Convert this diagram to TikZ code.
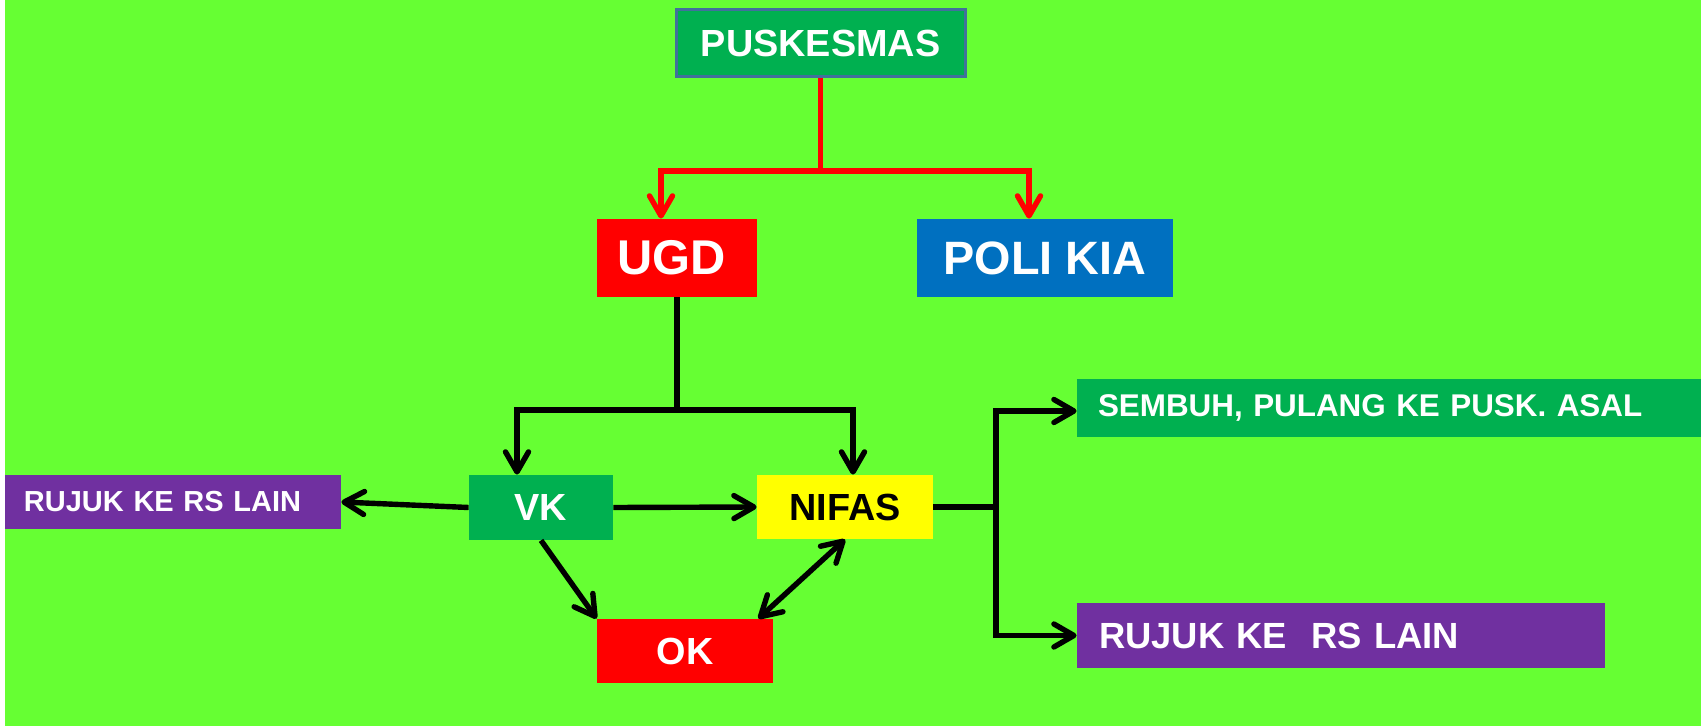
\documentclass[tikz,border=0pt]{standalone}
\usepackage{fontspec}
\setmainfont{Liberation Sans}
\usetikzlibrary{arrows.meta}

\definecolor{bggreen}{HTML}{66FF33}
\definecolor{boxgreen}{HTML}{00B050}
\definecolor{boxred}{HTML}{FF0000}
\definecolor{boxblue}{HTML}{0070C0}
\definecolor{boxyellow}{HTML}{FFFF00}
\definecolor{boxpurple}{HTML}{7030A0}
\definecolor{rimblue}{HTML}{41719C}

\newcommand{\boxfont}[1]{\fontsize{#1}{#1}\selectfont\bfseries}

\tikzset{
  box/.style={inner sep=0pt, text=white},
  lbox/.style 2 args={box, inner xsep=#1, text width=#2, align=left},
  link/.style={line width=2.7pt},
  arr/.style={link, -{Straight Barb[length=10pt,width=11.5pt,round]}},
  dblarr/.style={link, {Straight Barb[length=10pt,width=11.5pt,round]}-{Straight Barb[length=10pt,width=11.5pt,round]}}
}

\begin{document}
\begin{tikzpicture}[x=0.5pt,y=-0.5pt]
    % Background
    \useasboundingbox (0,0) rectangle (1701,726);
    \fill[white] (0,0) rectangle (1701,726);
    \fill[bggreen] (5,0) rectangle (1701,726);

    % Top
    \node[box, fill=boxgreen, draw=rimblue, line width=1.5pt, minimum width=144.5pt, minimum height=33.5pt,
          font=\boxfont{18.9pt}] (pusk) at (820.5,43.5) {PUSKESMAS};
    \node[lbox={10pt}{60pt}, fill=boxred, minimum height=39pt,
          font=\boxfont{24.4pt}] (ugd) at (677,258) {UGD};
    \node[box, fill=boxblue, minimum width=128pt, minimum height=39pt,
          font=\boxfont{23.4pt}] (poli) at (1045,258) {POLI KIA};

    % Middle
    \node[box, fill=boxgreen, minimum width=72pt, minimum height=32.5pt,
          font=\boxfont{18.9pt}] (vk) at (541,507.5) {VK};
    \node[box, fill=boxyellow, text=black, minimum width=88pt, minimum height=32pt,
          font=\boxfont{18.9pt}] (nifas) at (845,507) {NIFAS};
    \node[box, fill=boxred, minimum width=88pt, minimum height=32pt,
          font=\boxfont{18.9pt}] (ok) at (685,651) {OK};
    \node[lbox={9.5pt}{149pt}, fill=boxpurple, minimum height=27pt,
          font=\boxfont{14.5pt}] (rujukL) at (173,502) {RUJUK KE RS LAIN};

    % Right
    \node[lbox={10.5pt}{291pt}, fill=boxgreen, minimum height=29pt,
          font=\boxfont{15.7pt}] (sembuh) at (1389,408) {SEMBUH, PULANG KE PUSK. ASAL};
    \node[lbox={11pt}{242pt}, fill=boxpurple, minimum height=32.5pt,
          font=\boxfont{18.2pt}] (rujukR) at (1341,635.5) {RUJUK KE\ \ RS LAIN};

    % Red links
    \coordinate (rsplit) at (820.5,171);
    \draw[link, boxred] (pusk.south) -- (rsplit);
    \draw[arr, boxred] (rsplit) -| ([xshift=-8pt]ugd.north);
    \draw[arr, boxred] (rsplit) -| ([xshift=-8pt]poli.north);

    % Black links
    \coordinate (bsplit) at (677,410);
    \draw[link] (ugd.south) -- (bsplit);
    \draw[arr] (bsplit) -| ([xshift=-12pt]vk.north);
    \draw[arr] (bsplit) -| ([xshift=4pt]nifas.north);
    \draw[arr] (vk.west) -- (rujukL.east);
    \draw[arr] (vk.east) -- (nifas.west);
    \draw[arr] (vk.south) -- (ok.north west);
    \draw[dblarr] (nifas.south) -- ([xshift=-7.5pt]ok.north east);

    \coordinate (nsplit) at (996,507);
    \draw[link] (nifas.east) -- (nsplit);
    \draw[arr] (nsplit) |- ([yshift=-1.5pt]sembuh.west);
    \draw[arr] (nsplit) |- (rujukR.west);
\end{tikzpicture}
\end{document}
